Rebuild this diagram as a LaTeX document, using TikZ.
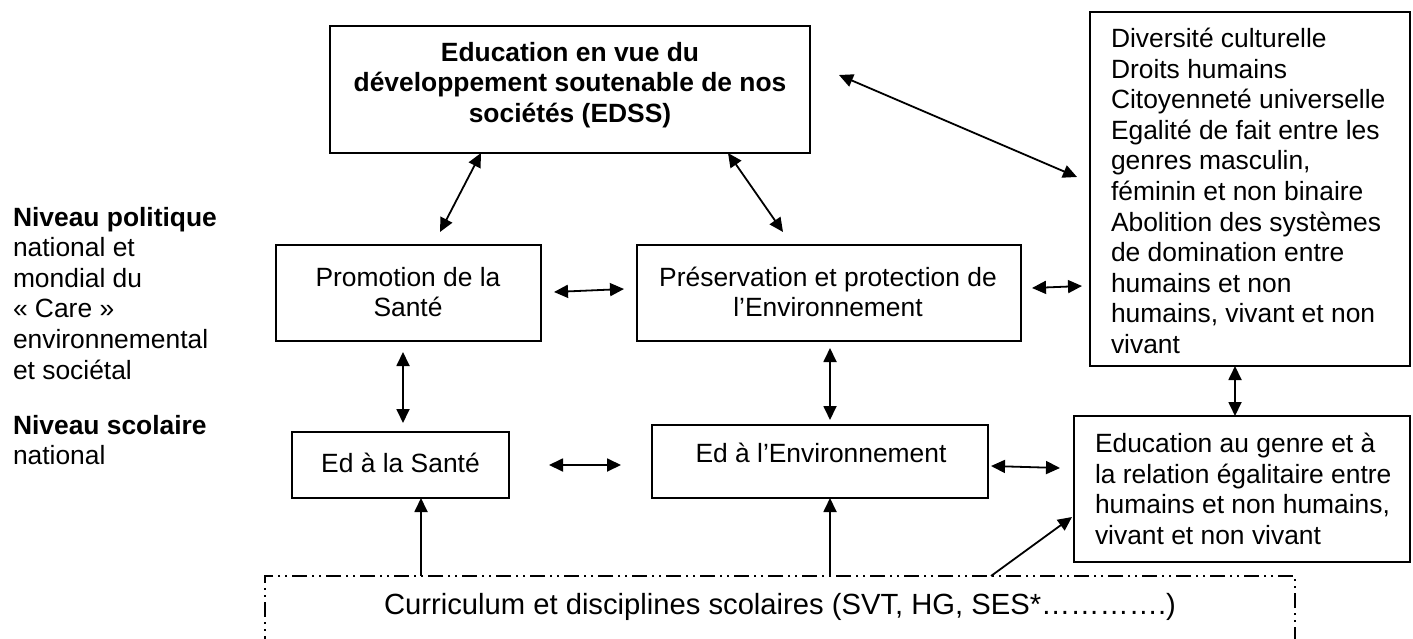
\documentclass[tikz,border=0pt]{standalone}
\usepackage{fontspec}
\setmainfont{Liberation Sans}
\usetikzlibrary{arrows.meta,calc}
\begin{document}
\begin{tikzpicture}[x=1pt,y=-1pt,
  every node/.style={font=\fontsize{26.4}{30.6}\selectfont, inner sep=0pt, outer sep=0pt},
  box/.style={draw, line width=1.8pt},
  dashbox/.style={draw, line width=1.4pt, dash pattern=on 15pt off 5pt on 2pt off 5pt on 2pt off 5pt},
  biarrow/.style={line width=1.8pt, {Triangle[length=14pt,width=13pt]}-{Triangle[length=14pt,width=13pt]}},
  uparrow/.style={line width=1.8pt, -{Triangle[length=14pt,width=13pt]}}
]
\clip (0,0) rectangle (1413,639);
\fill[white] (0,0) rectangle (1413,639);

% boxes
\node[box, minimum width=480pt, minimum height=127pt] (edss) at (570,89.5) {};
\node[box, minimum width=265pt, minimum height=96pt] (promo) at (408.5,293) {};
\node[box, minimum width=384pt, minimum height=96pt] (pres) at (829,293) {};
\node[box, minimum width=320pt, minimum height=354pt] (valeurs) at (1250,189) {};
\node[box, minimum width=217pt, minimum height=66pt] (edsante) at (400.5,465) {};
\node[box, minimum width=336pt, minimum height=73pt] (edenv) at (820,461.5) {};
\node[box, minimum width=336pt, minimum height=146pt] (edgenre) at (1242,489) {};
\node[dashbox, minimum width=1030pt, minimum height=124pt] (curr) at (780,638) {};

% texts
\node[align=center, font=\fontsize{26.4}{30.6}\selectfont\bfseries] (tedss) at (570,85)
  {Education en vue du\\développement soutenable de nos\\sociétés (EDSS)};
\node[align=center] (tpromo) at (408,292) {Promotion de la\\Santé};
\node[align=center] (tpres) at (828,292) {Préservation et protection de\\l’Environnement};
\node[align=left, anchor=north west] (tval) at (1111,28)
  {Diversité culturelle\\Droits humains\\Citoyenneté universelle\\Egalité de fait entre les\\genres masculin,\\féminin et non binaire\\Abolition des systèmes\\de domination entre\\humains et non\\humains, vivant et non\\vivant};
\node (tsante) at (400.5,463) {Ed à la Santé};
\node (tenv) at (821,453) {Ed à l’Environnement};
\node[align=left, anchor=north west] (tgenre) at (1095,433)
  {Education au genre et à\\la relation égalitaire entre\\humains et non humains,\\vivant et non vivant};
\node[font=\fontsize{29.2}{33.6}\selectfont] (tcurr) at (780,607) {Curriculum et disciplines scolaires (SVT, HG, SES*………….)};
\node[align=left, anchor=north west] (lpol) at (13,207)
  {\textbf{Niveau politique}\\national et\\mondial du\\«~Care~»\\environnemental\\et sociétal};
\node[align=left, anchor=north west] (lsco) at (13,415)
  {\textbf{Niveau scolaire}\\national};

% connectors
\draw[biarrow] ($(edss.south west)+(151,0)$) -- ($(promo.north west)+(164,-13)$);
\draw[biarrow] ($(edss.south west)+(398,0)$) -- ($(pres.north west)+(146,-13)$);
\draw[biarrow] ($(edss.east)+(29,-14.5)$) -- ($(valeurs.west)+(-13,-12)$);
\draw[biarrow] ($(promo.east)+(13,-1)$) -- ($(pres.west)+(-13,-4)$);
\draw[biarrow] ($(pres.east)+(11,-5)$) -- ($(valeurs.west)+(-8,97)$);
\draw[biarrow] ($(promo.south west)+(127,11)$) -- ($(edsante.north west)+(111,-9)$);
\draw[biarrow] ($(pres.south west)+(193,7)$) -- ($(edenv.north west)+(178,-5)$);
\draw[biarrow] ($(valeurs.south west)+(145,0)$) -- ($(edgenre.north west)+(161,0)$);
\draw[biarrow] ($(edsante.east)+(40,0)$) -- ($(edenv.west)+(-31,3.5)$);
\draw[biarrow] ($(edenv.east)+(3,4.5)$) -- ($(edgenre.west)+(-14,-21)$);
\draw[uparrow] ($(curr.north west)+(156,0)$) -- ($(edsante.south west)+(129,0)$);
\draw[uparrow] ($(curr.north west)+(565,0)$) -- ($(edenv.south west)+(178,0)$);
\draw[uparrow] ($(curr.north west)+(726,0)$) -- ($(edgenre.south west)+(-2,-45)$);
\end{tikzpicture}
\end{document}
